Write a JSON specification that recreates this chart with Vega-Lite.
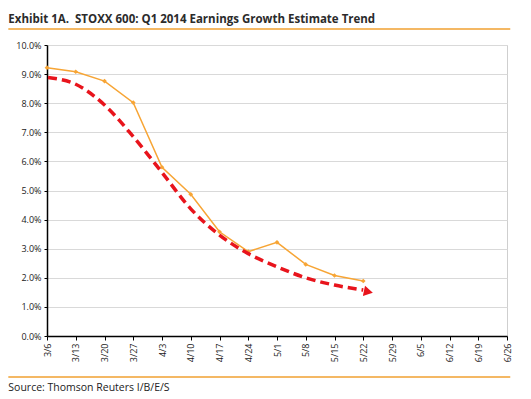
{
  "$schema": "https://vega.github.io/schema/vega-lite/v6.json",
  "autosize": {"type": "none"},
  "padding": {"left": 47, "top": 45, "right": 24, "bottom": 63},
  "width": 460,
  "height": 291,
  "background": "white",
  "config": {
    "view": {"stroke": "#cfcfcf", "strokeWidth": 1},
    "font": "Open Sans"
  },
  "datasets": {
    "estimate": [
      {"date": "2014-03-06T00:00:00", "growth": 0.0922},
      {"date": "2014-03-13T00:00:00", "growth": 0.0908},
      {"date": "2014-03-20T00:00:00", "growth": 0.0876},
      {"date": "2014-03-27T00:00:00", "growth": 0.0802},
      {"date": "2014-04-03T00:00:00", "growth": 0.0580},
      {"date": "2014-04-10T00:00:00", "growth": 0.0487},
      {"date": "2014-04-17T00:00:00", "growth": 0.0358},
      {"date": "2014-04-24T00:00:00", "growth": 0.0290},
      {"date": "2014-05-01T00:00:00", "growth": 0.0322},
      {"date": "2014-05-08T00:00:00", "growth": 0.0246},
      {"date": "2014-05-15T00:00:00", "growth": 0.0208},
      {"date": "2014-05-22T00:00:00", "growth": 0.0189}
    ],
    "trend": [
      {"date": "2014-03-06T06:00:00", "growth": 0.0888},
      {"date": "2014-03-13T00:00:00", "growth": 0.0865},
      {"date": "2014-03-20T00:00:00", "growth": 0.0794},
      {"date": "2014-03-27T00:00:00", "growth": 0.0685},
      {"date": "2014-04-03T00:00:00", "growth": 0.0562},
      {"date": "2014-04-10T00:00:00", "growth": 0.0437},
      {"date": "2014-04-17T00:00:00", "growth": 0.0347},
      {"date": "2014-04-24T00:00:00", "growth": 0.0283},
      {"date": "2014-05-01T00:00:00", "growth": 0.0238},
      {"date": "2014-05-08T00:00:00", "growth": 0.0200},
      {"date": "2014-05-15T00:00:00", "growth": 0.0175},
      {"date": "2014-05-22T00:00:00", "growth": 0.0158}
    ],
    "arrowhead": [
      {"date": "2014-05-23T06:00:00", "growth": 0.0152}
    ],
    "frame": [
      {"left": "2014-02-24T14:00:00", "right": "2014-06-26T19:00:00", "level": 0.1055},
      {"left": "2014-02-24T14:00:00", "right": "2014-06-26T19:00:00", "level": -0.0141}
    ],
    "titletext": [
      {"date": "2014-02-24T14:00:00", "growth": 0.1076, "label": "Exhibit 1A.\u00a0 STOXX 600: Q1 2014 Earnings Growth Estimate Trend"}
    ],
    "sourcetext": [
      {"date": "2014-02-24T14:00:00", "growth": -0.0188, "label": "Source: Thomson Reuters I/B/E/S"}
    ]
  },
  "encoding": {
    "x": {
      "field": "date", "type": "temporal",
      "scale": {"domain": [{"year": 2014, "month": 3, "date": 6}, {"year": 2014, "month": 6, "date": 26}]},
      "axis": {
        "title": null,
        "format": "%-m/%-d",
        "labelAngle": 270,
        "labelFontSize": 9,
        "labelColor": "#222222",
        "labelPadding": 3,
        "grid": false,
        "domainColor": "#000000",
        "domainWidth": 1.5,
        "tickColor": "#000000",
        "tickSize": 4,
        "labelOverlap": false,
        "labelFlush": false,
        "values": [
          {"year": 2014, "month": 3, "date": 6},
          {"year": 2014, "month": 3, "date": 13},
          {"year": 2014, "month": 3, "date": 20},
          {"year": 2014, "month": 3, "date": 27},
          {"year": 2014, "month": 4, "date": 3},
          {"year": 2014, "month": 4, "date": 10},
          {"year": 2014, "month": 4, "date": 17},
          {"year": 2014, "month": 4, "date": 24},
          {"year": 2014, "month": 5, "date": 1},
          {"year": 2014, "month": 5, "date": 8},
          {"year": 2014, "month": 5, "date": 15},
          {"year": 2014, "month": 5, "date": 22},
          {"year": 2014, "month": 5, "date": 29},
          {"year": 2014, "month": 6, "date": 5},
          {"year": 2014, "month": 6, "date": 12},
          {"year": 2014, "month": 6, "date": 19},
          {"year": 2014, "month": 6, "date": 26}
        ]
      }
    },
    "y": {
      "field": "growth", "type": "quantitative",
      "scale": {"domain": [0, 0.1], "nice": false},
      "axis": {
        "title": null,
        "format": ".1%",
        "values": [0, 0.01, 0.02, 0.03, 0.04, 0.05, 0.06, 0.07, 0.08, 0.09, 0.1],
        "labelOverlap": false,
        "labelFlush": false,
        "labelFontSize": 9,
        "labelColor": "#222222",
        "labelPadding": 3,
        "gridColor": "#d9d9d9",
        "gridWidth": 1,
        "domainColor": "#000000",
        "domainWidth": 1.5,
        "tickColor": "#000000",
        "tickSize": 3
      }
    }
  },
  "layer": [
    {
      "data": {"name": "estimate"},
      "mark": {"type": "line", "color": "#F7A535", "strokeWidth": 1.5, "point": {"shape": "diamond", "size": 22, "filled": true, "color": "#F7A535"}}
    },
    {
      "data": {"name": "trend"},
      "mark": {"type": "line", "color": "#E8141C", "strokeWidth": 3.5, "strokeDash": [9, 5], "interpolate": "monotone"}
    },
    {
      "data": {"name": "arrowhead"},
      "mark": {"type": "point", "shape": "triangle-right", "filled": true, "color": "#E8141C", "opacity": 1, "size": 110, "angle": 12}
    },
    {
      "data": {"name": "frame"},
      "mark": {"type": "rule", "color": "#F0A030", "strokeWidth": 1.5, "clip": false},
      "encoding": {
        "x": {"field": "left", "type": "temporal"},
        "x2": {"field": "right"},
        "y": {"field": "level", "type": "quantitative"}
      }
    },
    {
      "data": {"name": "titletext"},
      "mark": {"type": "text", "align": "left", "baseline": "alphabetic", "color": "#2b2b2b", "font": "Open Sans", "fontSize": 11.5, "fontWeight": "bold", "clip": false},
      "encoding": {"text": {"field": "label"}}
    },
    {
      "data": {"name": "sourcetext"},
      "mark": {"type": "text", "align": "left", "baseline": "alphabetic", "color": "#222222", "font": "Open Sans", "fontSize": 10.5, "clip": false},
      "encoding": {"text": {"field": "label"}}
    }
  ]
}
